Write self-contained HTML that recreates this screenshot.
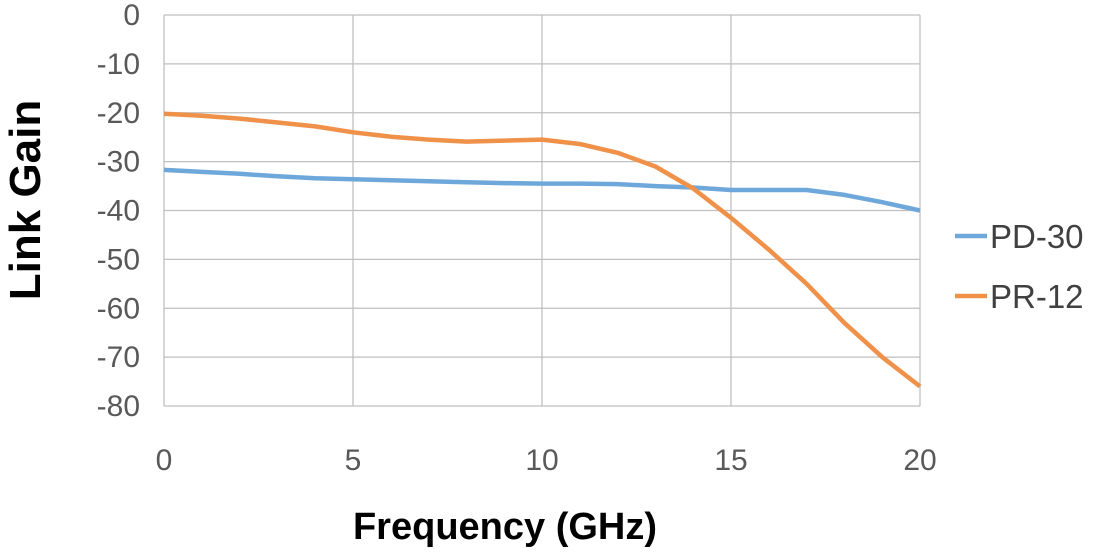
<!DOCTYPE html>
<html><head><meta charset="utf-8"><style>
body{margin:0;background:#fff;font-family:"Liberation Sans",sans-serif}
</style></head><body>
<svg id="chart" width="1098" height="554" xmlns="http://www.w3.org/2000/svg"></svg>
<script>
const xTicks=[0,5,10,15,20];
const yTicks=[0,-10,-20,-30,-40,-50,-60,-70,-80];
const freq=[0,1,2,3,4,5,6,7,8,9,10,11,12,13,14,15,16,17,18,19,20];
const pd30=[-31.7,-32.1,-32.5,-33,-33.4,-33.6,-33.8,-34,-34.2,-34.4,-34.5,-34.5,-34.6,-35,-35.3,-35.8,-35.8,-35.8,-36.8,-38.3,-40];
const pr12=[-20.2,-20.6,-21.2,-22,-22.8,-24,-24.9,-25.5,-25.9,-25.7,-25.5,-26.4,-28.2,-31,-35.5,-41.5,-48,-55,-63,-70,-76];
const seriesNames=["PD-30","PR-12"];
const colors=["#6ea8db","#f0914a"];
const svg=document.getElementById('chart');
const NS="http://www.w3.org/2000/svg";
const L=164,R=920,T=15,B=406;
const xs=v=>L+(v-0)/(20-0)*(R-L);
const ys=v=>T+(0-v)/80*(B-T);
function mk(tag,attrs,name,txt){const e=document.createElementNS(NS,tag);for(const k in attrs)e.setAttribute(k,attrs[k]);


if(txt!==undefined)e.textContent=txt;svg.appendChild(e);return e;}
yTicks.forEach(v=>{mk('line',{x1:L,x2:R,y1:ys(v),y2:ys(v),stroke:'#bfbfbf','stroke-width':1.3},'y-gridline');
mk('text',{x:140,y:ys(v)+10,'text-anchor':'end','font-size':30,fill:'#595959'},'y-tick-label',String(v));});
xTicks.forEach(v=>{mk('line',{x1:xs(v),x2:xs(v),y1:T,y2:B,stroke:'#bfbfbf','stroke-width':1.3},'x-gridline');
mk('text',{x:xs(v),y:470,'text-anchor':'middle','font-size':30,fill:'#595959'},'x-tick-label',String(v));});
[pd30,pr12].forEach((s,i)=>{
const d=s.map((v,j)=>(j?'L':'M')+xs(freq[j]).toFixed(1)+' '+ys(v).toFixed(1)).join(' ');
mk('path',{d:d,fill:'none',stroke:colors[i],'stroke-width':4.5,'stroke-linejoin':'round'},'series-'+seriesNames[i].toLowerCase());
const ly=236+i*60;
mk('line',{x1:955,x2:987,y1:ly,y2:ly,stroke:colors[i],'stroke-width':4.5},'legend-swatch');
mk('text',{x:990,y:ly+12,'font-size':33,fill:'#404040'},'legend-entry',seriesNames[i]);
});
mk('text',{x:0,y:0,transform:'translate(40,200) rotate(-90)','text-anchor':'middle','font-size':44,'font-weight':'bold',fill:'#000'},'y-axis-title','Link Gain');
mk('text',{x:505,y:539,'text-anchor':'middle','font-size':38,'font-weight':'bold',fill:'#000','xml:space':'preserve'},'x-axis-title','Frequency  (GHz)');
</script>
</body></html>
